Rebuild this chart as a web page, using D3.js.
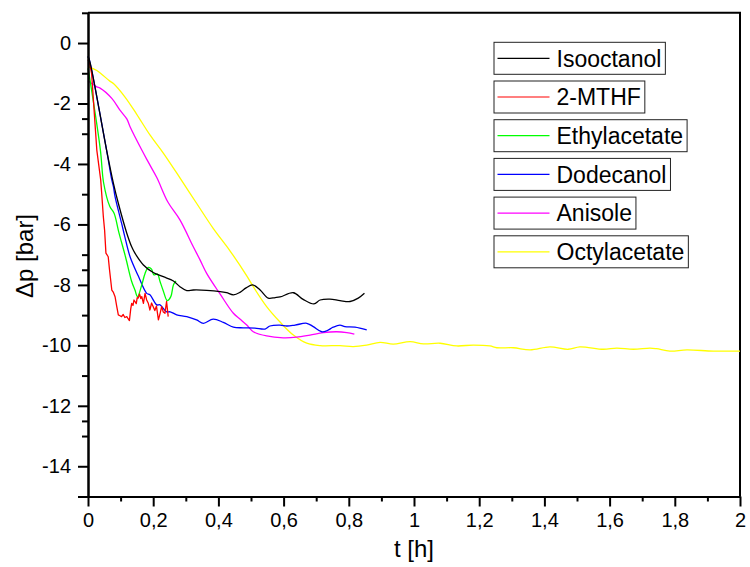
<!DOCTYPE html>
<html>
<head>
<meta charset="utf-8">
<script src="https://cdn.jsdelivr.net/npm/d3@7"></script>
<style>
  html, body { margin: 0; padding: 0; background: #fff; }
  svg { display: block; font-family: "Liberation Sans", Arial, sans-serif; }
</style>
</head>
<body>
<svg id="chart" width="750" height="567"></svg>
<script>
// Pressure drop Δp [bar] over time t [h] for six solvents
const seriesNames = ["Isooctanol", "2-MTHF", "Ethylacetate", "Dodecanol", "Anisole", "Octylacetate"];
const seriesColors = ["#000000", "#ff0000", "#00ff00", "#0000ff", "#ff00ff", "#ffff00"];

const isooctanol = [
  [0, -0.45], [0.006, -0.63], [0.057, -3.54], [0.078, -4.64], [0.093, -5.30], [0.119, -6.29],
  [0.134, -6.74], [0.144, -6.95], [0.170, -7.34], [0.200, -7.59], [0.231, -7.73], [0.262, -7.87],
  [0.282, -8.06], [0.303, -8.19], [0.323, -8.17], [0.364, -8.18], [0.405, -8.22], [0.425, -8.26],
  [0.446, -8.33], [0.466, -8.25], [0.485, -8.10], [0.505, -8.00], [0.528, -8.17], [0.553, -8.44],
  [0.574, -8.42], [0.589, -8.40], [0.630, -8.26], [0.660, -8.48], [0.693, -8.63], [0.712, -8.50],
  [0.742, -8.47], [0.773, -8.52], [0.804, -8.55], [0.829, -8.44], [0.848, -8.28]
];

const mthf = [
  [0, -0.55], [0.004, -0.63], [0.011, -1.0], [0.027, -3.54], [0.039, -4.53], [0.042, -4.97],
  [0.047, -5.74], [0.051, -6.20], [0.055, -6.95], [0.062, -7.07], [0.066, -7.50], [0.073, -8.17],
  [0.078, -8.25], [0.083, -8.39], [0.088, -8.70], [0.093, -8.99], [0.098, -9.02], [0.103, -9.05],
  [0.108, -8.98], [0.113, -9.08], [0.119, -9.05], [0.123, -9.12], [0.127, -9.18], [0.131, -8.80],
  [0.134, -8.61], [0.138, -8.68], [0.141, -8.50], [0.144, -8.55], [0.148, -8.62], [0.151, -8.42],
  [0.154, -8.44], [0.158, -8.30], [0.162, -8.45], [0.165, -8.39], [0.170, -8.61], [0.175, -8.28],
  [0.180, -8.50], [0.185, -8.61], [0.190, -8.83], [0.195, -8.60], [0.200, -8.72], [0.205, -8.85],
  [0.210, -8.70], [0.216, -9.16], [0.221, -8.95], [0.226, -8.72], [0.231, -8.90], [0.236, -8.94],
  [0.241, -8.55], [0.246, -9.05]
];

const ethylacetate = [
  [0, -0.84], [0.006, -1.22], [0.038, -3.54], [0.048, -4.63], [0.067, -5.41], [0.080, -5.63],
  [0.095, -6.28], [0.115, -7.07], [0.134, -7.89], [0.144, -8.17], [0.152, -8.39], [0.165, -8.00],
  [0.175, -7.62], [0.185, -7.42], [0.195, -7.48], [0.202, -7.67], [0.213, -7.64], [0.221, -7.89],
  [0.231, -8.20], [0.243, -8.52], [0.254, -8.39], [0.262, -8.00], [0.270, -7.87]
];

const dodecanol = [
  [0, -0.43], [0.004, -0.55], [0.057, -3.54], [0.073, -4.53], [0.078, -4.75], [0.083, -5.08],
  [0.103, -5.96], [0.113, -6.41], [0.129, -7.07], [0.154, -7.70], [0.180, -8.28], [0.190, -8.33],
  [0.211, -8.66], [0.221, -8.66], [0.241, -8.89], [0.252, -8.89], [0.272, -8.99], [0.303, -9.05],
  [0.333, -9.16], [0.354, -9.27], [0.384, -9.13], [0.415, -9.24], [0.446, -9.40], [0.476, -9.42],
  [0.512, -9.43], [0.543, -9.46], [0.558, -9.36], [0.589, -9.33], [0.610, -9.36], [0.635, -9.33],
  [0.671, -9.27], [0.691, -9.38], [0.717, -9.55], [0.734, -9.51], [0.752, -9.40], [0.773, -9.33],
  [0.788, -9.38], [0.819, -9.40], [0.855, -9.49]
];

const anisole = [
  [0, -1.25], [0.027, -1.45], [0.037, -1.49], [0.073, -1.83], [0.098, -2.22], [0.119, -2.51],
  [0.129, -2.77], [0.165, -3.54], [0.185, -3.94], [0.211, -4.45], [0.245, -5.26], [0.282, -5.85],
  [0.323, -6.74], [0.344, -7.18], [0.364, -7.62], [0.405, -8.30], [0.446, -8.94], [0.466, -9.13],
  [0.487, -9.33], [0.507, -9.55], [0.548, -9.69], [0.599, -9.75], [0.640, -9.73], [0.681, -9.66],
  [0.722, -9.58], [0.763, -9.55], [0.794, -9.58], [0.817, -9.63]
];

const octylacetate = [
  [0, -0.78], [0.027, -0.91], [0.067, -1.26], [0.078, -1.34], [0.113, -1.78], [0.149, -2.35],
  [0.190, -3.04], [0.231, -3.64], [0.282, -4.46], [0.333, -5.30], [0.384, -6.13], [0.436, -6.88],
  [0.487, -7.70], [0.507, -8.06], [0.548, -8.72], [0.589, -9.23], [0.630, -9.66], [0.671, -9.93],
  [0.712, -10.01], [0.773, -10.01], [0.814, -10.04], [0.855, -9.99], [0.896, -9.90], [0.936, -9.96],
  [0.988, -9.88], [1.029, -9.95], [1.080, -9.93], [1.131, -10.02], [1.182, -9.99], [1.233, -10.02],
  [1.254, -10.08], [1.305, -10.08], [1.356, -10.15], [1.417, -10.05], [1.473, -10.13], [1.509, -10.05],
  [1.581, -10.13], [1.622, -10.09], [1.673, -10.13], [1.724, -10.09], [1.744, -10.11], [1.785, -10.19],
  [1.837, -10.15], [1.918, -10.19], [2.0, -10.19]
];

const seriesData = [isooctanol, mthf, ethylacetate, dodecanol, anisole, octylacetate];

const xMajorTicks = [0, 0.2, 0.4, 0.6, 0.8, 1, 1.2, 1.4, 1.6, 1.8, 2];
const xMinorTicks = [0.1, 0.3, 0.5, 0.7, 0.9, 1.1, 1.3, 1.5, 1.7, 1.9];
const yMajorTicks = [0, -2, -4, -6, -8, -10, -12, -14];
const yMinorTicks = [1, -1, -2.5, -3, -5, -7, -7.5, -9, -11, -12.5, -13];

const svg = d3.select("#chart");

const x = d3.scaleLinear().domain([0, 2]).range([88, 740]);
const y = d3.scaleLinear().domain([-15, 1]).range([496.5, 12.8]);

// plot frame (top and right edges)
svg.append("path")
  .attr("d", `M${x(0)},${y(1)}H${x(2)}V${y(-15)}`)
  .attr("fill", "none").attr("stroke", "#000").attr("stroke-width", 2);

// data lines: the noisy 2-MTHF trace is drawn straight, the others smoothed
const line = d3.line().x(d => x(d[0])).y(d => y(d[1]));
const smooth = d3.line().x(d => x(d[0])).y(d => y(d[1])).curve(d3.curveCatmullRom.alpha(0.5));

const drawOrder = [5, 4, 3, 2, 1, 0];
drawOrder.forEach(i => {
  svg.append("path")
    .datum(seriesData[i])
    .attr("d", i === 1 ? line : smooth)
    .attr("fill", "none")
    .attr("stroke", seriesColors[i])
    .attr("stroke-width", 1.3)
    .attr("stroke-linejoin", "round");
});

// axes
const fmtX = d => String(d).replace(".", ",");
svg.append("g").attr("transform", `translate(0,${y(-15)})`)
  .call(d3.axisBottom(x).tickValues(xMajorTicks).tickFormat(fmtX).tickSize(10).tickPadding(6).tickSizeOuter(0));
svg.append("g").attr("transform", `translate(0,${y(-15)})`)
  .call(d3.axisBottom(x).tickValues(xMinorTicks).tickFormat("").tickSize(5).tickSizeOuter(0));

svg.append("g").attr("transform", `translate(${x(0)},0)`)
  .call(d3.axisLeft(y).tickValues(yMajorTicks.concat([-15])).tickFormat(d => d === -15 ? "" : String(d))
    .tickSize(10).tickPadding(7).tickSizeOuter(0));
svg.append("g").attr("transform", `translate(${x(0)},0)`)
  .call(d3.axisLeft(y).tickValues(yMinorTicks).tickFormat("").tickSize(6).tickSizeOuter(0));

svg.selectAll(".domain").attr("stroke", "#000").attr("stroke-width", 2);
svg.selectAll(".tick line").attr("stroke", "#000").attr("stroke-width", 2);
svg.selectAll(".tick text")
  .attr("fill", "#000")
  .style("font-family", "'Liberation Sans', Arial, sans-serif")
  .style("font-size", "20px");

// axis titles
svg.append("text")
  .attr("x", 414).attr("y", 557)
  .attr("text-anchor", "middle")
  .style("font-size", "24px")
  .text("t [h]");

svg.append("text")
  .attr("transform", "translate(33,256) rotate(-90)")
  .attr("text-anchor", "middle")
  .style("font-size", "24px")
  .text("Δp [bar]");

// legend: one framed entry per series
const legendX = 494, legendTop = 42.3, legendStep = 38.7, legendH = 32;
seriesNames.forEach((name, i) => {
  const g = svg.append("g").attr("transform", `translate(${legendX},${legendTop + i * legendStep})`);
  const rect = g.append("rect")
    .attr("x", 0).attr("y", 0).attr("height", legendH)
    .attr("fill", "#fff").attr("stroke", "#222").attr("stroke-width", 1);
  g.append("line")
    .attr("x1", 3.5).attr("x2", 55.5)
    .attr("y1", legendH / 2).attr("y2", legendH / 2)
    .attr("stroke", seriesColors[i]).attr("stroke-width", 1.2);
  const t = g.append("text")
    .attr("x", 62.5).attr("y", legendH / 2 + 8.3)
    .style("font-size", "23px")
    .text(name);
  const w = t.node().getComputedTextLength();
  rect.attr("width", 62.5 + w + 4);
});
</script>
</body>
</html>
